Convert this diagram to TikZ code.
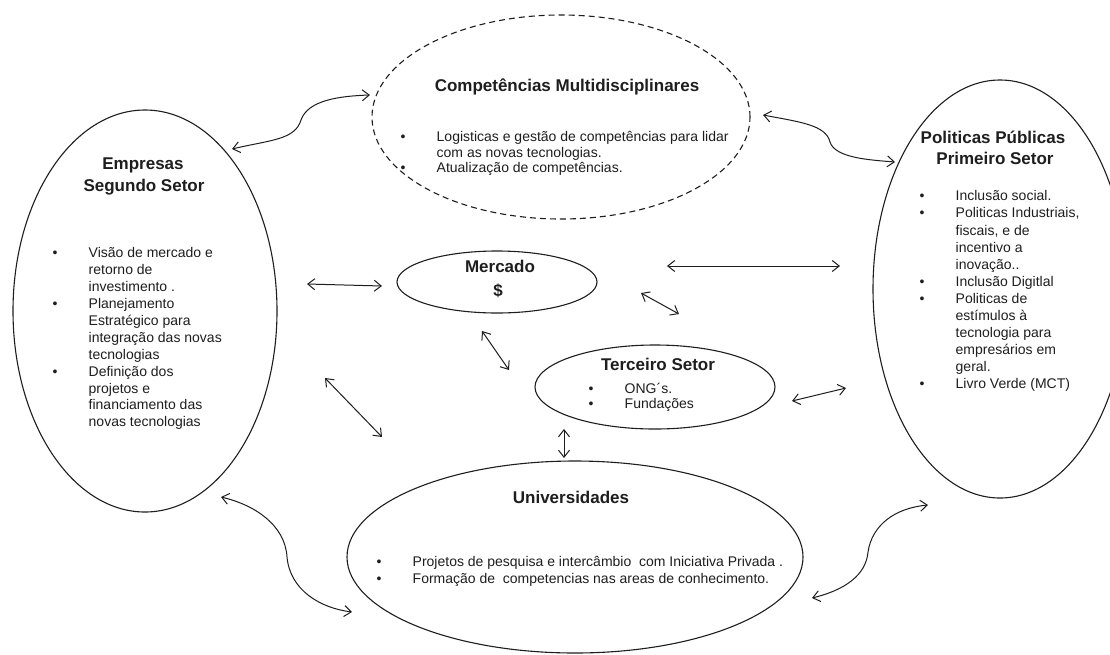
\documentclass[tikz,border=0pt]{standalone}
\usepackage{fontspec}
\setmainfont{Liberation Sans}
\usetikzlibrary{shapes.geometric,arrows.meta}
\definecolor{ink}{HTML}{1E1E1E}
\newcommand\bu{\makebox[36pt][l]{\textbullet}}
\newcommand\ind{\hspace*{36pt}}
\begin{document}
\begin{tikzpicture}[x=1pt,y=-1pt,
  oval/.style={draw=ink, line width=1.1pt, ellipse, inner sep=0pt},
  ttl/.style={font=\fontsize{17}{21}\selectfont\bfseries, text=ink, inner sep=0pt, anchor=base},
  lst/.style={font=\fontsize{14}{#1}\selectfont, text=ink, inner sep=0pt, anchor=north west, align=left},
  lst/.default=17,
  link/.style={draw=ink, line width=1pt, {Straight Barb[length=7pt,width=11pt]}-{Straight Barb[length=7pt,width=11pt]}},
]
\clip (0,0) rectangle (1110,654);
\fill[white] (0,0) rectangle (1110,654);

% ellipses
\node[oval, dashed, dash pattern=on 6pt off 4pt, minimum width=378pt, minimum height=204pt] (comp) at (561,117) {};
\node[oval, minimum width=264pt, minimum height=402pt] (emp) at (145,311) {};
\node[oval, minimum width=254pt, minimum height=418pt] (pol) at (1000,289) {};
\node[oval, minimum width=200pt, minimum height=62pt] (merc) at (497,282) {};
\node[oval, minimum width=240pt, minimum height=84pt] (terc) at (655,387) {};
\node[oval, minimum width=456pt, minimum height=192pt] (univ) at (575,557) {};

% titles
\node[ttl] (comp-t) at (567,91) {Competências Multidisciplinares};
\node[ttl] (emp-t1) at (143,169) {Empresas};
\node[ttl] (emp-t2) at (144,191) {Segundo Setor};
\node[ttl] (pol-t1) at (993,143) {Politicas Públicas};
\node[ttl] (pol-t2) at (995,164) {Primeiro Setor};
\node[ttl] (merc-t1) at (500,272) {Mercado};
\node[ttl] (merc-t2) at (498,296) {\$};
\node[ttl] (terc-t) at (658,370) {Terceiro Setor};
\node[ttl] (univ-t) at (571,503) {Universidades};

% lists
\node[lst=15.5] (comp-l) at (400.5,131.5) {\bu Logisticas e gestão de competências para lidar\\
\ind com as novas tecnologias.\\
\bu Atualização de competências.};
\node[lst=16.9] (emp-l) at (52.5,247.5) {\bu Visão de mercado e\\
\ind retorno de\\
\ind investimento .\\
\bu Planejamento\\
\ind Estratégico  para\\
\ind integração das novas\\
\ind tecnologias\\
\bu Definição dos\\
\ind projetos e\\
\ind financiamento das\\
\ind novas tecnologias};
\node[lst=17.1] (pol-l) at (919.5,190.5) {\bu Inclusão social.\\
\bu Politicas Industriais,\\
\ind fiscais, e de\\
\ind incentivo a\\
\ind inovação..\\
\bu Inclusão Digitlal\\
\bu Politicas de\\
\ind estímulos à\\
\ind tecnologia para\\
\ind empresários em\\
\ind geral.\\
\bu Livro Verde (MCT)};
\node[lst=15] (terc-l) at (588.5,382.5) {\bu ONG´s.\\
\bu Fundações};
\node[lst=17] (univ-l) at (376.5,556.5) {\bu Projetos de pesquisa e intercâmbio \ com Iniciativa Privada .\\
\bu Formação de \ competencias nas areas de conhecimento.};

% connector end points
\coordinate (ec1) at (232,149);  \coordinate (ce1) at (370,95);
\coordinate (cp1) at (763,115);  \coordinate (pc1) at (895,162);
\coordinate (eu1) at (221,497);  \coordinate (ue1) at (352,612);
\coordinate (up1) at (812,598);  \coordinate (pu1) at (928,505);
\coordinate (em1) at (307,284);  \coordinate (me1) at (382,286);
\coordinate (eu2) at (325,378);  \coordinate (ue2) at (382,437);
\coordinate (mt1) at (641,293);  \coordinate (tm1) at (679,314);
\coordinate (mu1) at (482,331);  \coordinate (um1) at (509,370);
\coordinate (mp1) at (667,266);  \coordinate (pm1) at (840,266);
\coordinate (tp1) at (792,401);  \coordinate (pt1) at (846,388);
\coordinate (tu1) at (564,429);  \coordinate (ut1) at (564,458);

% curved connectors
\draw[link] (ec1) .. controls (270,140) and (295,140) .. (301,120) .. controls (308,100) and (340,96) .. (ce1);
\draw[link] (cp1) .. controls (800,122) and (826,125) .. (830,142) .. controls (835,158) and (870,160) .. (pc1);
\draw[link] (eu1) .. controls (255,505) and (285,525) .. (287,557) .. controls (290,590) and (320,608) .. (ue1);
\draw[link] (up1) .. controls (845,590) and (866,575) .. (868,552) .. controls (872,525) and (895,508) .. (pu1);

% straight connectors
\draw[link] (em1) -- (me1);
\draw[link] (eu2) -- (ue2);
\draw[link] (mt1) -- (tm1);
\draw[link] (mu1) -- (um1);
\draw[link] (mp1) -- (pm1);
\draw[link] (tp1) -- (pt1);
\draw[link] (tu1) -- (ut1);
\end{tikzpicture}
\end{document}
